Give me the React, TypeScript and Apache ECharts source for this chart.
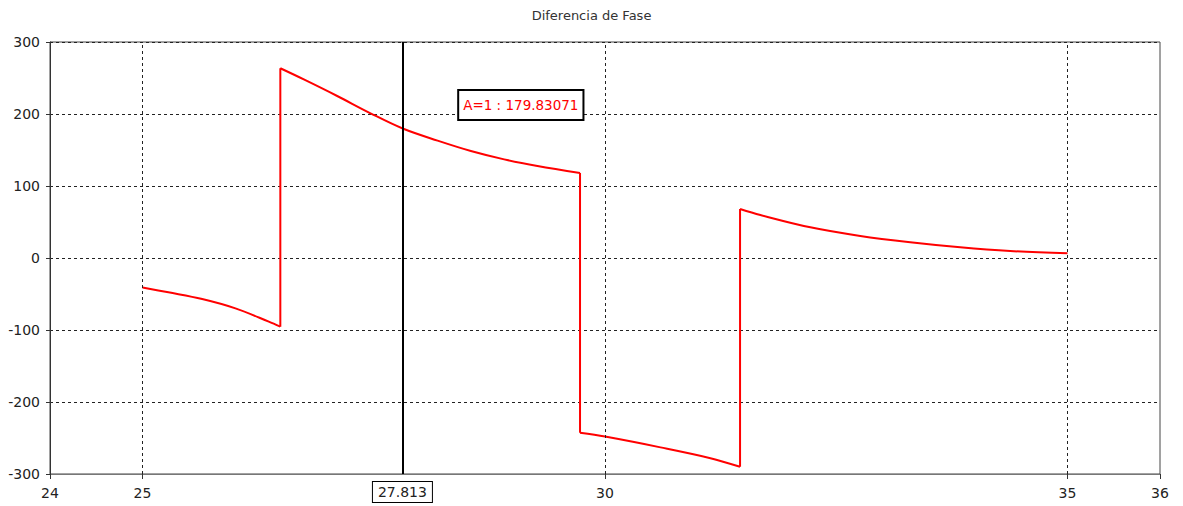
import React, { useEffect, useRef } from "react";
import * as echarts from "echarts";

const titleText = "Diferencia de Fase";
const xTickValues = [24, 25, 30, 35, 36];
const xGridValues = [25, 30, 35];
const cursorX = 27.813;
const cursorLabel = "A=1 : 179.83071";
const cursorLabelAt = [29.09, 212.5];

const seg1X = [25, 25.28, 25.645, 26.005, 26.365, 26.49];
const seg1Y = [-41, -47.7, -57, -70, -88.4, -95.4];
const seg2X = [26.49, 26.744, 27.105, 27.465, 27.813, 28.19, 28.55, 28.91, 29.27, 29.73];
const seg2Y = [263.5, 248, 225, 201, 179.83, 163, 148.6, 137, 127.8, 118];
const seg3X = [29.73, 30.0, 30.6, 31.14, 31.46];
const seg3Y = [-242.6, -248, -263, -278, -290];
const seg4X = [31.46, 31.68, 32.22, 32.76, 33.3, 33.84, 34.38, 35.0];
const seg4Y = [68, 59.7, 42.6, 30.6, 21.8, 14.8, 9.7, 6.5];

const FONT = "DejaVu Sans";
const RED = "#ff0000";

export default function App() {
  const ref = useRef<HTMLDivElement>(null);
  useEffect(() => {
    if (!ref.current) return;
    const chart = echarts.init(ref.current, undefined, { renderer: "svg" });
    const segs = [[seg1X, seg1Y], [seg2X, seg2Y], [seg3X, seg3Y], [seg4X, seg4Y]].map(([xs, ys]) =>
      xs.map((x, i) => [x, ys[i]])
    );
    const jumps: number[][][] = [];
    for (let i = 0; i < segs.length - 1; i++) {
      jumps.push([segs[i][segs[i].length - 1], segs[i + 1][0]]);
    }
    const segSeries = segs.map((d) => ({
      type: "line",
      data: d,
      z: 3,
      symbol: "none",
      silent: true,
      smooth: 0.35,
      lineStyle: { color: RED, width: 2 },
    }));
    const jumpSeries = jumps.map((d) => ({
      type: "line",
      data: d,
      z: 3,
      symbol: "none",
      silent: true,
      lineStyle: { color: RED, width: 2 },
    }));
    chart.setOption({
      animation: false,
      backgroundColor: "#ffffff",
      title: {
        text: titleText,
        left: "center",
        top: 9,
        padding: 0,
        textStyle: { fontFamily: FONT, fontSize: 13, fontWeight: "normal", color: "#333" },
      },
      grid: {
        left: 50,
        right: 23,
        top: 42,
        bottom: 32,
        show: true,
        borderColor: "#444",
        borderWidth: 1,
      },
      xAxis: {
        type: "value",
        min: 24,
        max: 36,
        interval: 1,
        axisLine: { show: true, onZero: false, lineStyle: { color: "#777", width: 1 } },
        axisTick: { show: true, length: 5, customValues: xTickValues, lineStyle: { color: "#333" } },
        axisLabel: {
          customValues: xTickValues,
          margin: 12,
          fontFamily: FONT,
          fontSize: 14,
          color: "#222",
        },
        splitLine: { show: false },
      },
      yAxis: {
        type: "value",
        min: -300,
        max: 300,
        interval: 100,
        axisLine: { show: true, onZero: false, lineStyle: { color: "#333", width: 1 } },
        axisTick: { show: true, length: 4, lineStyle: { color: "#333" } },
        axisLabel: { margin: 10, fontFamily: FONT, fontSize: 14, color: "#222" },
        splitLine: { show: true, lineStyle: { color: "#222", type: [3, 3], width: 1 } },
      },
      series: [
        {
          type: "line",
          data: segs[0],
          z: 1,
          symbol: "none",
          silent: true,
          lineStyle: { opacity: 0 },
          markLine: {
            silent: true,
            symbol: "none",
            label: { show: false },
            lineStyle: { color: "#222", type: [3, 3], width: 1 },
            data: xGridValues.map((v) => ({ xAxis: v })),
          },
        },
        {
          type: "line",
          data: segs[1],
          z: 2,
          symbol: "none",
          silent: true,
          lineStyle: { opacity: 0 },
          markLine: {
            silent: true,
            symbol: "none",
            lineStyle: { color: "#000", type: "solid", width: 2 },
            label: {
              show: true,
              position: "start",
              distance: 8,
              formatter: String(cursorX),
              fontFamily: FONT,
              fontSize: 14,
              color: "#222",
              backgroundColor: "#fff",
              borderColor: "#000",
              borderWidth: 1,
              padding: [3, 5, 3, 5],
            },
            data: [{ xAxis: cursorX }],
          },
          markPoint: {
            silent: true,
            symbol: "rect",
            symbolSize: 1,
            itemStyle: { color: "rgba(0,0,0,0)" },
            label: {
              show: true,
              position: "inside",
              formatter: cursorLabel,
              fontFamily: FONT,
              fontSize: 13.5,
              color: RED,
              backgroundColor: "#fff",
              borderColor: "#000",
              borderWidth: 2,
              padding: [7, 4, 7, 4],
            },
            data: [{ coord: cursorLabelAt }],
          },
        },
        ...segSeries,
        ...jumpSeries,
      ],
    });
    return () => chart.dispose();
  }, []);
  return (
    <div
      ref={ref}
      style={{ position: "fixed", left: 0, top: 0, width: 1183, height: 506 }}
    />
  );
}
